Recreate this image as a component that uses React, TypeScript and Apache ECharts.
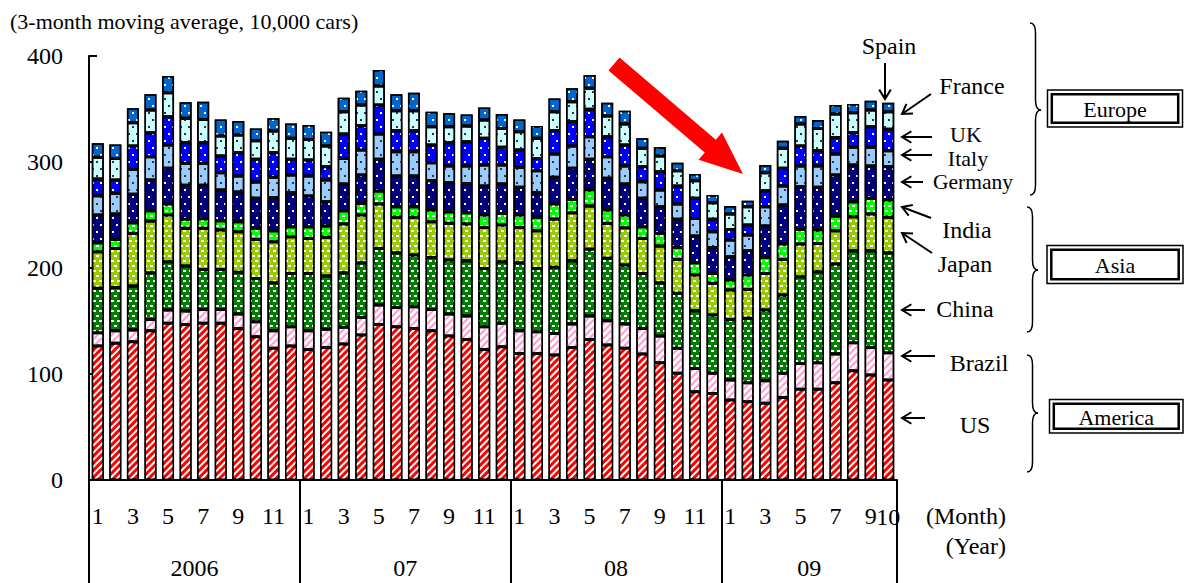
import React, { useEffect, useRef } from "react";
import * as echarts from "echarts";

// ---------------- data ----------------
const categories = [
  "2006-1","2006-2","2006-3","2006-4","2006-5","2006-6","2006-7","2006-8","2006-9","2006-10","2006-11","2006-12",
  "2007-1","2007-2","2007-3","2007-4","2007-5","2007-6","2007-7","2007-8","2007-9","2007-10","2007-11","2007-12",
  "2008-1","2008-2","2008-3","2008-4","2008-5","2008-6","2008-7","2008-8","2008-9","2008-10","2008-11","2008-12",
  "2009-1","2009-2","2009-3","2009-4","2009-5","2009-6","2009-7","2009-8","2009-9","2009-10",
];
const yearLabels = ["2006", "07", "08", "09"];
const yTicks = [0, 100, 200, 300, 400];

const us = [126.4,128.9,130.4,140.8,147.8,146.8,147.8,147.8,143,135.2,124.2,126.4,
  123.2,125.1,128.2,136.7,146.8,144.6,143,140.8,135.8,132.6,123.2,125.7,
  119.4,119.4,117.9,125.1,132.6,127.3,124.2,118.8,110.6,100.6,83.3,81.7,
  75.4,73.8,72.3,77.9,85.5,85.5,91.8,103.1,99,94.3];
const brazil = [12.6,11.9,11.1,10.7,12.5,12.6,13.1,13.1,13.5,14.1,16.6,18.2,
  17.6,17,15.8,16.7,18.2,18.2,20.5,20.1,20.7,22.1,21.4,22.1,
  21.4,20.5,20.4,22,22.1,23,22.9,24.2,25.2,23.6,22,18.9,
  18.9,18,21.4,22.7,24.5,25.1,27,26.4,26.1,25.8];
const china = [41.8,40.9,41.5,44,45.6,42.4,37.8,37.8,39.4,40.9,45.3,50.3,
  54.1,50.3,51.5,51.6,53.5,51.6,48.7,49.1,51,52.2,55,58.1,
  64.2,59.7,62.3,59.8,62.9,58.8,55.7,51.9,50.3,51.9,54.4,55,
  57.2,60.7,66.6,73.9,81.8,85.9,84.9,86.8,91.2,94.3];
const japan = [34.6,36.8,49.7,48.8,44.1,35.6,38.7,37.1,38.3,36.8,38.7,34.6,
  33,36.5,46,45,41.8,33.4,35.6,33.7,34.6,34.6,38.7,34.6,
  33.3,35.6,45.3,45.3,40.8,33,35.2,33,34.6,32,33.6,29.9,
  27.7,27.3,34.6,33.6,30.8,26.7,31.5,32.1,34.6,33.4];
const india = [8.5,8.5,10,9.7,10.3,8.5,9.1,8.8,9.5,10.4,10.4,9.4,
  11,10.7,12.5,11,12.3,10,10,11,11,10.7,11.7,11,
  11.7,12.6,14.4,12.5,15.1,12.6,12,11,12,11.3,11.7,9.4,
  9.4,13.5,15.1,14.5,13.8,12.6,13.8,14.1,14.8,16.3];
const germany = [26.1,23.9,26.8,29,33.7,32.1,31.5,28.9,28,28.3,31.4,32.1,
  29,22.9,25.2,26.7,29.9,28.9,28.9,27.6,27.4,27.6,27.3,27.7,
  26.1,23.2,25.2,29.3,29,29.9,29.2,26.8,25.1,26.5,25.1,24.5,
  22,23,29.6,36.8,40.3,40.3,38.7,34.6,30.5,31.5];
const italy = [18.2,19.5,23.5,22,22,20.7,20.7,16.4,15,15.4,18.9,16.7,
  18.8,20.5,24.2,23.6,23.9,23,23,17,15.7,16.4,19.8,17.9,
  18.8,20.8,22,21.1,21.4,20.4,17,15.7,15.7,14.4,16.7,14.8,
  15.8,14.8,18.2,17.9,19.5,20.1,19.8,16.7,17.6,15.1];
const uk = [15.8,12.6,22.1,22.6,26.7,19.5,19.5,15.7,22.1,21.4,23.3,14.8,
  15.2,12.6,23,22.9,27.3,19.8,19.8,16.7,22,22.9,25.2,16.7,
  16.4,11.6,22,22.9,25.8,18.9,19.8,14.2,17.3,17,18.9,11.7,
  10,9.4,15.1,16.7,18.9,14.5,15.7,13.8,19.5,20.1];
const france = [20.4,20.4,22,21.4,22.7,23,22,18.9,16.6,17.6,20.4,19.8,
  19.4,19.5,21.1,19.5,18,18.9,18.9,17.3,15.1,14.8,17.3,17.9,
  17.3,18.9,18,18.9,19.8,19.5,19.8,17.3,14.8,14.5,16.6,15.7,
  14.5,17.3,17,18.9,20.7,21,22.1,18.9,15.7,16.7];
const spain = [13.2,13.2,13.5,14.8,15.7,15.1,16.7,15.7,13.2,11.6,12,14.1,
  13.6,13.5,13.2,13.6,15.1,15.4,17,14.2,12.6,11,11.9,13.6,
  11.6,11.6,12.5,12.6,12.5,12.6,12.6,9.4,8.2,7.5,6.3,7.2,
  7.5,5.7,7.2,7.2,7.6,7.9,8.4,8.2,8.8,8.5];

// ---------------- styles ----------------
const FONT = '"Liberation Serif", "Times New Roman", serif';

const stripe = (c: string) => ({
  symbol: "rect", symbolSize: 1, symbolKeepAspect: false, color: c,
  dashArrayX: [1, 0], dashArrayY: [2, 2.6], rotation: -Math.PI / 4,
});
const dash = (c: string) => ({
  symbol: "rect", symbolSize: 1, symbolKeepAspect: false, color: c,
  dashArrayX: [[3, 3], [0, 3, 3, 0]], dashArrayY: [1.4, 2.6], rotation: 0,
});
const dot = (c: string) => ({
  symbol: "rect", symbolSize: 1, symbolKeepAspect: false, color: c,
  dashArrayX: [[1.5, 5.5], [0, 3.5, 1.5, 2]], dashArrayY: [1.5, 4.5], rotation: 0,
});

const seriesDefs = [
  { name: "US", data: us, color: "#ff0000", decal: stripe("#ffffff") },
  { name: "Brazil", data: brazil, color: "#ffffff", decal: stripe("#ff99cc") },
  { name: "China", data: china, color: "#008000", decal: dash("#ffffff") },
  { name: "Japan", data: japan, color: "#99cc00", decal: dash("#ffffff") },
  { name: "India", data: india, color: "#00ff00", decal: dash("#ffffff") },
  { name: "Germany", data: germany, color: "#000080", decal: dot("#ffffff") },
  { name: "Italy", data: italy, color: "#99ccff", decal: dot("#333333") },
  { name: "UK", data: uk, color: "#0000ff", decal: dot("#ffffff") },
  { name: "France", data: france, color: "#ccffff", decal: dot("#333333") },
  { name: "Spain", data: spain, color: "#0066cc", decal: dot("#ffffff") },
];

// ---------------- annotation helpers ----------------
function textEl(text: string, x: number, y: number, size: number, align = "center") {
  return {
    type: "text", x, y, silent: true,
    style: { text, fill: "#000", fontFamily: FONT, fontSize: size, align, verticalAlign: "middle" },
  };
}

function arrowEl(x1: number, y1: number, x2: number, y2: number) {
  const a = Math.atan2(y2 - y1, x2 - x1);
  const h = 11, sp = 0.55;
  const p1 = [x2 - h * Math.cos(a - sp), y2 - h * Math.sin(a - sp)];
  const p2 = [x2 - h * Math.cos(a + sp), y2 - h * Math.sin(a + sp)];
  const ls = { stroke: "#000", lineWidth: 2, fill: "none" };
  return {
    type: "group", silent: true,
    children: [
      { type: "line", shape: { x1, y1, x2, y2 }, style: ls },
      { type: "polyline", shape: { points: [p1, [x2, y2], p2] }, style: ls },
    ],
  };
}

function braceEl(x: number, yTop: number, yBot: number, yTip: number, w: number) {
  const r = 10, m = x + w / 2;
  const ls = { stroke: "#000", lineWidth: 1.5, fill: "none" };
  return {
    type: "group", silent: true,
    children: [
      { type: "bezierCurve", shape: { x1: x, y1: yTop, cpx1: m, cpy1: yTop, x2: m, y2: yTop + r }, style: ls },
      { type: "line", shape: { x1: m, y1: yTop + r, x2: m, y2: yTip - r }, style: ls },
      { type: "bezierCurve", shape: { x1: m, y1: yTip - r, cpx1: m, cpy1: yTip, x2: x + w, y2: yTip }, style: ls },
      { type: "bezierCurve", shape: { x1: x + w, y1: yTip, cpx1: m, cpy1: yTip, x2: m, y2: yTip + r }, style: ls },
      { type: "line", shape: { x1: m, y1: yTip + r, x2: m, y2: yBot - r }, style: ls },
      { type: "bezierCurve", shape: { x1: m, y1: yBot - r, cpx1: m, cpy1: yBot, x2: x, y2: yBot }, style: ls },
    ],
  };
}

function boxEl(label: string, x: number, y: number, w: number, h: number) {
  return {
    type: "group", silent: true,
    children: [
      { type: "rect", shape: { x, y, width: w, height: h }, style: { fill: "#fff", stroke: "#000", lineWidth: 1.5 } },
      { type: "rect", shape: { x: x + 4.3, y: y + 4.3, width: w - 8.6, height: h - 8.6 }, style: { fill: "#fff", stroke: "#000", lineWidth: 2.5 } },
      textEl(label, x + w / 2, y + h / 2 + 1, 22),
    ],
  };
}

function bigArrowEl(sx: number, sy: number, tx: number, ty: number) {
  const L = Math.hypot(tx - sx, ty - sy);
  const dx = (tx - sx) / L, dy = (ty - sy) / L;
  const nx = -dy, ny = dx;
  const hl = 43, hh = 18, sw = 8.5;
  const bx = tx - dx * hl, by = ty - dy * hl;
  const pts = [
    [sx + nx * sw, sy + ny * sw],
    [bx + nx * sw, by + ny * sw],
    [bx + nx * hh, by + ny * hh],
    [tx, ty],
    [bx - nx * hh, by - ny * hh],
    [bx - nx * sw, by - ny * sw],
    [sx - nx * sw, sy - ny * sw],
  ];
  return { type: "polygon", silent: true, shape: { points: pts }, style: { fill: "#ff0000", stroke: "none" } };
}

const monthOf = (v: string) => v.split("-")[1];

export default function App() {
  const ref = useRef<HTMLDivElement>(null);

  useEffect(() => {
    if (!ref.current) return;
    const chart = echarts.init(ref.current, null, { renderer: "svg" });
    const last = categories.length - 1;
    const MONTH_LABEL_Y = 517;

    chart.setOption({
      animation: false,
      backgroundColor: "#ffffff",
      textStyle: { fontFamily: FONT },
      grid: { left: 89, right: 291, top: 56, bottom: 103, containLabel: false, outerBoundsMode: "none" },
      xAxis: {
        type: "category",
        data: categories,
        boundaryGap: true,
        axisLine: { show: true, lineStyle: { color: "#000", width: 2 } },
        axisTick: {
          show: true,
          alignWithLabel: false,
          interval: (i: number, v: string) => monthOf(v) === "1",
          length: 103,
          lineStyle: { color: "#000", width: 2 },
        },
        axisLabel: {
          // odd months on the axis; the final (even) month is placed below
          interval: (i: number, v: string) => Number(monthOf(v)) % 2 === 1,
          formatter: (v: string) => monthOf(v),
          margin: 24,
          fontFamily: FONT,
          fontSize: 24,
          lineHeight: 24,
          color: "#000",
          hideOverlap: false,
        },
        splitLine: { show: false },
      },
      yAxis: {
        type: "value",
        min: yTicks[0],
        max: yTicks[yTicks.length - 1],
        interval: yTicks[1] - yTicks[0],
        axisLine: { show: true, lineStyle: { color: "#000", width: 2 } },
        axisTick: { show: true, inside: true, length: 8, lineStyle: { color: "#000", width: 2 } },
        axisLabel: { margin: 26, fontFamily: FONT, fontSize: 24, color: "#000" },
        splitLine: { show: false },
      },
      series: seriesDefs.map((s) => ({
        name: s.name,
        type: "bar",
        stack: "total",
        barWidth: 12,
        data: s.data,
        itemStyle: { color: s.color, borderColor: "#000", borderWidth: 1.5, decal: s.decal },
        emphasis: { disabled: true },
      })),
    });

    // last month label (crowds against "9", as in the source), positioned via the x axis
    const lastX = chart.convertToPixel({ xAxisIndex: 0 }, categories[last]) as number;
    const lastMonthEl = textEl(monthOf(categories[last]), lastX, MONTH_LABEL_Y, 24);

    // year labels centred under each year block, positioned through the x axis
    const yearStart: number[] = [];
    categories.forEach((c, i) => { if (monthOf(c) === "1") yearStart.push(i); });
    const yearEls = yearStart.map((s, k) => {
      const e = k + 1 < yearStart.length ? yearStart[k + 1] - 1 : last;
      const x1 = chart.convertToPixel({ xAxisIndex: 0 }, categories[s]) as number;
      const x2 = chart.convertToPixel({ xAxisIndex: 0 }, categories[e]) as number;
      return textEl(yearLabels[k], (x1 + x2) / 2, 568, 24);
    });

    const graphics = [
      textEl("(3-month moving average, 10,000 cars)", 10, 21, 22, "left"),
      textEl("(Month)", 1006, 516, 24, "right"),
      textEl("(Year)", 1006, 546, 24, "right"),
      lastMonthEl,
      ...yearEls,
      bigArrowEl(614, 64, 743, 174),
      // country labels & arrows
      textEl("Spain", 889, 46, 24),
      arrowEl(885, 63, 885, 99),
      textEl("France", 972, 86, 24),
      arrowEl(931, 94, 902, 114),
      textEl("UK", 966, 134, 22),
      arrowEl(932, 137, 902, 137),
      textEl("Italy", 968, 158.5, 22),
      arrowEl(932, 155, 902, 155),
      textEl("Germany", 973, 182, 21.5),
      arrowEl(923, 182, 902, 182),
      textEl("India", 967, 230, 24),
      arrowEl(931, 218, 902, 207),
      textEl("Japan", 965, 264, 24),
      arrowEl(932, 253, 902, 233),
      textEl("China", 965, 309, 24),
      arrowEl(925, 310, 902, 310),
      textEl("Brazil", 979, 363, 24),
      arrowEl(935, 356, 902, 356),
      textEl("US", 975, 425, 24),
      arrowEl(925, 418, 902, 418),
      // braces
      braceEl(1030, 23, 195, 110, 11),
      braceEl(1027, 207, 332, 270, 11),
      braceEl(1027, 355, 472, 413, 11),
      // region boxes
      boxEl("Europe", 1047.5, 90, 135, 37),
      boxEl("Asia", 1047, 245.5, 136, 38),
      boxEl("America", 1049.5, 399.5, 133.5, 33.5),
    ];

    chart.setOption({ graphic: { elements: graphics } });

    return () => chart.dispose();
  }, []);

  return (
    <div
      ref={ref}
      style={{ position: "absolute", left: 0, top: 0, width: 1188, height: 583, background: "#fff" }}
    />
  );
}
